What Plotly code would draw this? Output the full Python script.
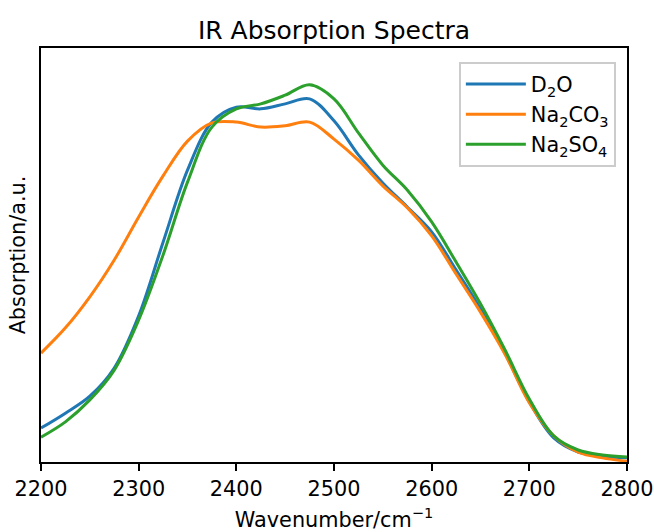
import plotly.graph_objects as go

wavenumber = [2200, 2225, 2250, 2275, 2300, 2325, 2350, 2375, 2400, 2425, 2450, 2475,
              2500, 2525, 2550, 2575, 2600, 2625, 2650, 2675, 2700, 2725, 2750, 2775, 2800]

d2o = [0.082, 0.118, 0.159, 0.227, 0.353, 0.531, 0.705, 0.821, 0.857, 0.853, 0.865, 0.877,
       0.824, 0.742, 0.674, 0.616, 0.556, 0.464, 0.370, 0.263, 0.145, 0.058, 0.024, 0.014, 0.010]

na2co3 = [0.263, 0.324, 0.399, 0.488, 0.592, 0.691, 0.775, 0.819, 0.821, 0.809, 0.812, 0.821,
          0.780, 0.729, 0.667, 0.614, 0.546, 0.454, 0.362, 0.261, 0.143, 0.063, 0.024, 0.010, 0.002]

na2so4 = [0.060, 0.097, 0.150, 0.222, 0.343, 0.500, 0.676, 0.809, 0.853, 0.865, 0.886, 0.911,
          0.877, 0.795, 0.717, 0.657, 0.580, 0.483, 0.382, 0.271, 0.152, 0.063, 0.029, 0.017, 0.012]

series_names = ["D<sub>2</sub>O", "Na<sub>2</sub>CO<sub>3</sub>", "Na<sub>2</sub>SO<sub>4</sub>"]
series_values = [d2o, na2co3, na2so4]
colors = ["#1f77b4", "#ff7f0e", "#2ca02c"]
x_ticks = [2200, 2300, 2400, 2500, 2600, 2700, 2800]

FONT = "DejaVu Sans"
FS = 20.8
W, H = 654, 532

fig = go.Figure()
for name, vals, col in zip(series_names, series_values, colors):
    fig.add_trace(go.Scatter(
        x=wavenumber, y=vals, name=name, mode="lines",
        line=dict(color=col, width=3, shape="spline", smoothing=1.0),
    ))

fig.update_layout(
    width=W, height=H,
    margin=dict(l=41, r=27, t=48, b=70, autoexpand=False),
    paper_bgcolor="white", plot_bgcolor="white",
    font=dict(family=FONT, size=FS, color="black"),
    title=dict(text="IR Absorption Spectra", font=dict(family=FONT, size=25, color="black"),
               x=(41 + 627) / 2 / W, xanchor="center", xref="container",
               y=1 - 30 / H, yanchor="middle", yref="container"),
    showlegend=True,
    legend=dict(x=0.981, xanchor="right", y=0.966, yanchor="top",
                bgcolor="rgba(255,255,255,0.8)", bordercolor="#cccccc", borderwidth=2,
                font=dict(family=FONT, size=FS, color="black"),
                itemwidth=60, tracegroupgap=0),
)

fig.update_xaxes(
    range=[2200, 2800], tickvals=x_ticks, ticktext=[str(t) for t in x_ticks],
    showgrid=False, zeroline=False,
    showline=True, linecolor="black", linewidth=1.6, mirror=True,
    ticks="outside", ticklen=7, tickwidth=1.6, tickcolor="black",
    tickfont=dict(family=FONT, size=FS, color="black"),
    title=dict(text="Wavenumber/cm<sup>−1</sup>", font=dict(family=FONT, size=FS, color="black"), standoff=13),
    automargin=False,
)
fig.update_yaxes(
    range=[0, 1], showticklabels=False, ticks="",
    showgrid=False, zeroline=False,
    showline=True, linecolor="black", linewidth=1.6, mirror=True,
    title=dict(text="Absorption/a.u.", font=dict(family=FONT, size=FS, color="black"), standoff=8),
    automargin=False,
)

fig.write_html(
    "out.html",
    config={"displayModeBar": False},
    post_script="document.body.style.margin='0';document.body.style.overflow='hidden';",
)
